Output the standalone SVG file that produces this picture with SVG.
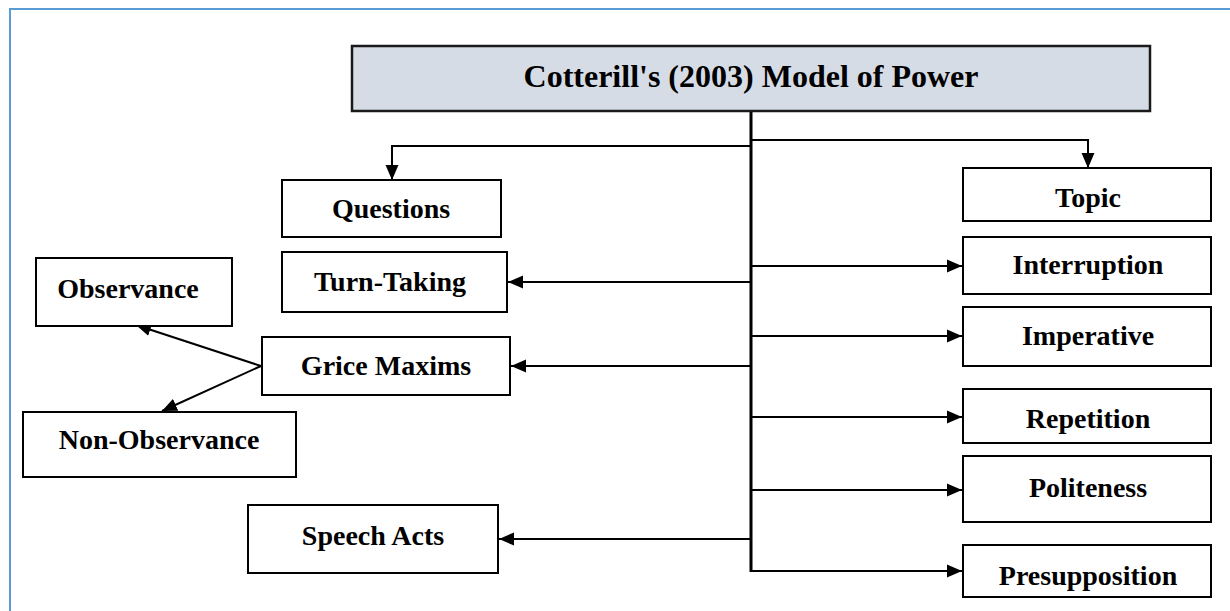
<svg xmlns="http://www.w3.org/2000/svg" width="1230" height="611" viewBox="0 0 1230 611">
<style>
.box{fill:#fff;stroke:#000;stroke-width:2}
.title{fill:#d6dce5;stroke:#1a1a1a;stroke-width:2.5}
text{font-family:"Liberation Serif","Times New Roman",serif;font-weight:bold;font-size:28px;fill:#000;text-anchor:middle}
.c{fill:none;stroke:#000;stroke-width:2}
.main{fill:none;stroke:#000;stroke-width:3}
.frame{fill:none;stroke:#5b9bd5;stroke-width:2}
</style>
<defs>
<marker id="ah" markerUnits="userSpaceOnUse" markerWidth="16" markerHeight="14" refX="15" refY="7" orient="auto">
<path d="M0,0.5 L15,7 L0,13.5 Z" fill="#000"/>
</marker>
</defs>
<path class="frame" d="M10,611 V9 H1230"/>
<g id="connectors">
<path class="main" d="M751,111 V572"/>
<path class="c" d="M751,146 H392 V180" marker-end="url(#ah)"/>
<path class="c" d="M751,140 H1088 V168" marker-end="url(#ah)"/>
<path class="c" d="M751,282 H508" marker-end="url(#ah)"/>
<path class="c" d="M751,366 H511" marker-end="url(#ah)"/>
<path class="c" d="M751,539 H499" marker-end="url(#ah)"/>
<path class="c" d="M751,266 H962" marker-end="url(#ah)"/>
<path class="c" d="M751,336 H962" marker-end="url(#ah)"/>
<path class="c" d="M751,417 H962" marker-end="url(#ah)"/>
<path class="c" d="M751,490 H962" marker-end="url(#ah)"/>
<path class="c" d="M751,571 H962" marker-end="url(#ah)"/>
<path class="c" d="M261,366 L136,325" marker-end="url(#ah)"/>
<path class="c" d="M261,366 L162,411" marker-end="url(#ah)"/>
</g>
<g id="title"><rect class="title" x="352" y="46" width="798" height="65"/><text x="751" y="87" style="font-size:32px">Cotterill's (2003) Model of Power</text></g>
<g id="questions"><rect class="box" x="282" y="180" width="219" height="57"/><text x="391" y="218">Questions</text></g>
<g id="turntaking"><rect class="box" x="282" y="252" width="225" height="60"/><text x="390" y="291">Turn-Taking</text></g>
<g id="observance"><rect class="box" x="36" y="258" width="196" height="68"/><text x="128" y="298">Observance</text></g>
<g id="grice"><rect class="box" x="262" y="337" width="248" height="58"/><text x="386" y="375">Grice Maxims</text></g>
<g id="nonobservance"><rect class="box" x="23" y="412" width="273" height="65"/><text x="159" y="449">Non-Observance</text></g>
<g id="speechacts"><rect class="box" x="248" y="505" width="250" height="68"/><text x="373" y="545">Speech Acts</text></g>
<g id="topic"><rect class="box" x="963" y="168" width="248" height="53"/><text x="1088" y="207">Topic</text></g>
<g id="interruption"><rect class="box" x="963" y="237" width="248" height="57"/><text x="1088" y="274">Interruption</text></g>
<g id="imperative"><rect class="box" x="963" y="307" width="248" height="59"/><text x="1088" y="345">Imperative</text></g>
<g id="repetition"><rect class="box" x="963" y="389" width="248" height="54"/><text x="1088" y="428">Repetition</text></g>
<g id="politeness"><rect class="box" x="963" y="456" width="248" height="66"/><text x="1088" y="497">Politeness</text></g>
<g id="presupposition"><rect class="box" x="963" y="545" width="248" height="52"/><text x="1088" y="585">Presupposition</text></g>
</svg>
